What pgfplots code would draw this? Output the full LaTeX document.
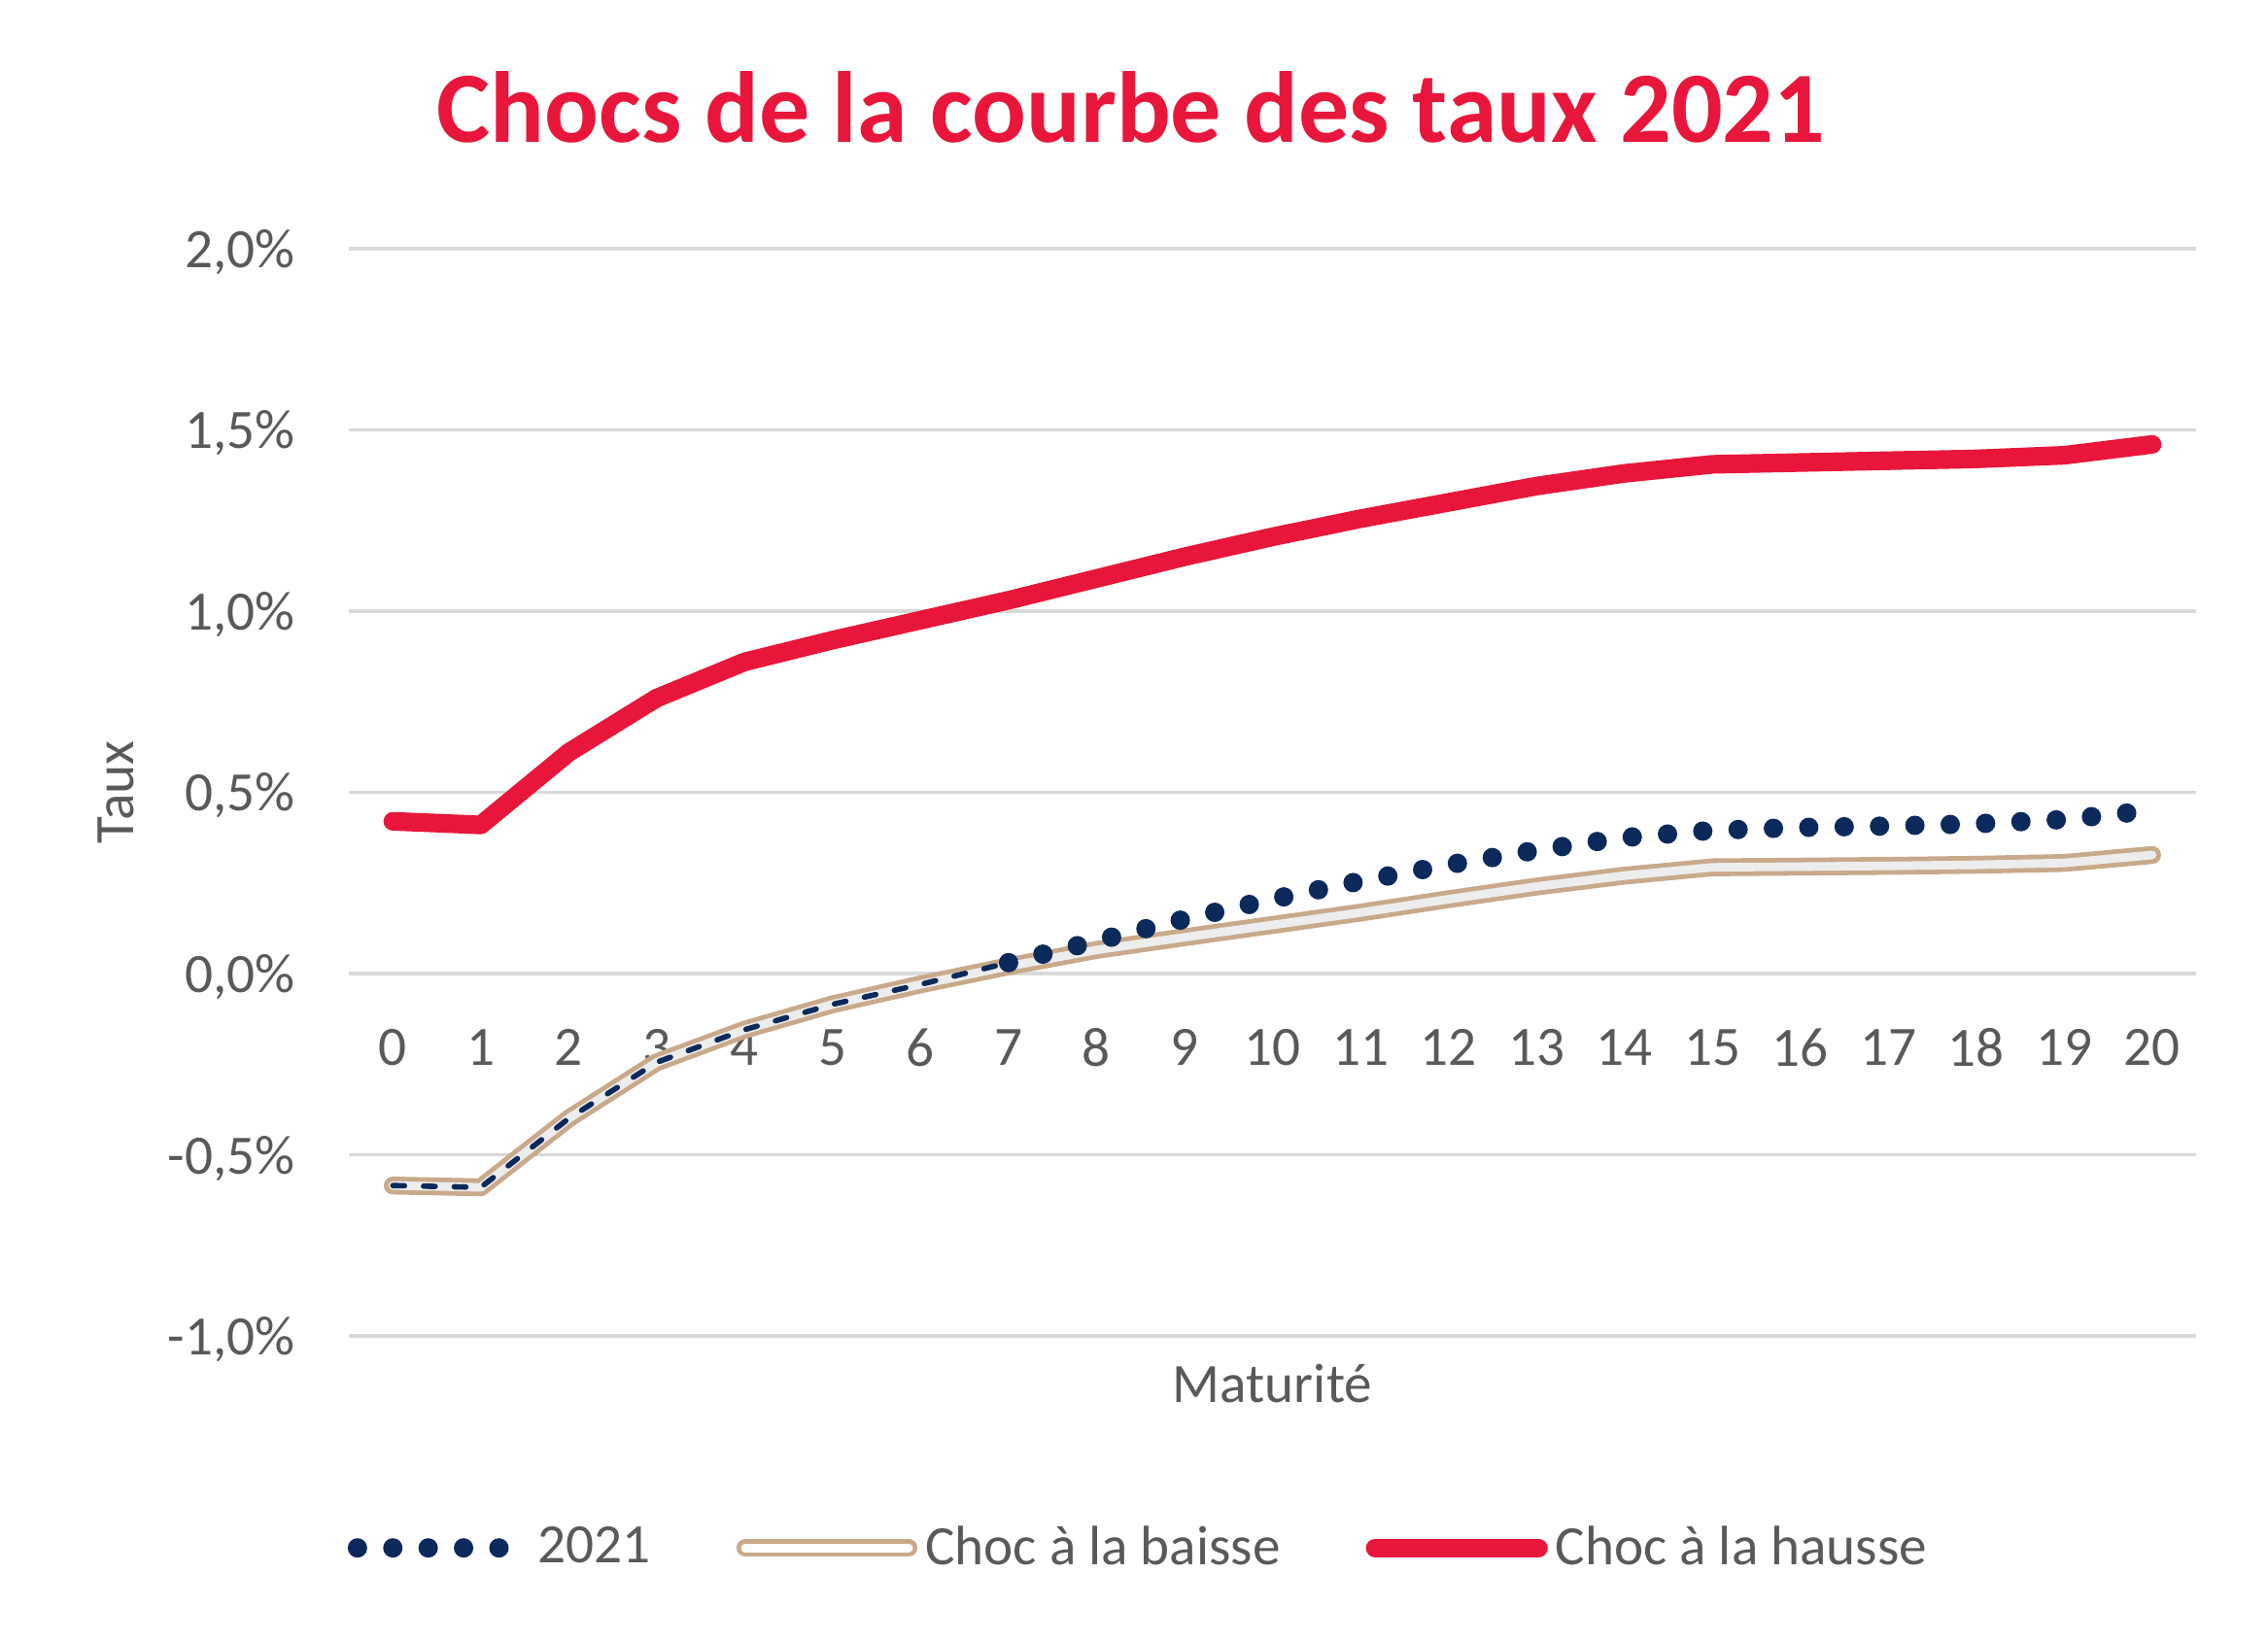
\documentclass[border=0pt]{standalone}
\usepackage{fontspec}
\setmainfont{Carlito}
\usepackage{pgfplots}
\usepackage{pgfplotstable}
\pgfplotsset{compat=1.18}
\definecolor{cred}{HTML}{E8163A}
\definecolor{cnavy}{HTML}{0B2A5B}
\definecolor{ctan}{HTML}{C9A98A}
\definecolor{ctxt}{HTML}{595959}
\definecolor{cgrid}{HTML}{D9D9D9}
\definecolor{cmid}{HTML}{EDEDED}

\pgfplotstableread{
x y
0 -0.585
1 -0.59
2 -0.40
3 -0.245
4 -0.155
5 -0.085
6 -0.03
7 0.03
8 0.09
9 0.15
10 0.205
11 0.255
12 0.30
13 0.34
14 0.375
15 0.395
16 0.403
17 0.407
18 0.413
19 0.425
20 0.45
}\annee

\pgfplotstableread{
x y
0 -0.585
1 -0.59
2 -0.40
3 -0.245
4 -0.155
5 -0.085
6 -0.03
7 0.02
8 0.065
9 0.10
10 0.134
11 0.168
12 0.205
13 0.24
14 0.27
15 0.293
16 0.295
17 0.297
18 0.30
19 0.305
20 0.327
}\baisse

\pgfplotstableread{
x y
0 0.42
1 0.41
2 0.61
3 0.76
4 0.86
5 0.92
6 0.975
7 1.03
8 1.09
9 1.15
10 1.205
11 1.255
12 1.30
13 1.345
14 1.38
15 1.405
16 1.41
17 1.415
18 1.42
19 1.43
20 1.46
}\hausse

\begin{document}
\begin{tikzpicture}
\path[use as bounding box] (-89.75pt,-78.5pt) rectangle (493.75pt,343.75pt);
\begin{axis}[
  at={(0pt,0pt)}, anchor=south west,
  scale only axis, width=475.25pt, height=279.75pt,
  xmin=-0.5, xmax=20.5, ymin=-1, ymax=2,
  axis x line*=middle, axis y line*=left,
  axis line style={draw=none},
  major tick length=0pt,
  xtick={0,1,...,20},
  ytick={-1,-0.5,0,0.5,1,1.5,2},
  yticklabels={{-1,0\%},{-0,5\%},{0,0\%},{0,5\%},{1,0\%},{1,5\%},{2,0\%}},
  ymajorgrids,
  major grid style={cgrid, line width=0.9pt},
  tick label style={font=\fontsize{14.3}{16}\selectfont, text=ctxt},
  /pgf/number format/assume math mode=true,
  xticklabel style={anchor=center, inner sep=0pt, yshift=-19pt},
  yticklabel style={anchor=east, inner sep=0pt, text depth=0pt, xshift=-13.75pt},
  xlabel={Maturité}, ylabel={Taux},
  label style={font=\fontsize{14.3}{16}\selectfont, text=ctxt},
  xlabel style={at={(axis description cs:0.5,-0.044)}, anchor=center},
  ylabel style={at={(axis description cs:-0.126,0.5)}, anchor=center},
  title={Chocs de la courbe des taux 2021},
  title style={at={(axis description cs:0.4235,1.109)}, anchor=center, font=\fontsize{26}{30}\selectfont\bfseries, text=cred},
  legend columns=3,
  legend style={at={(axis description cs:0.429,-0.195)}, anchor=center, draw=none, fill=none,
    font=\fontsize{14.3}{16}\selectfont, text=ctxt,
    /tikz/every even column/.append style={column sep=20pt}},
  legend image code/.code={\draw[#1] (0pt,0pt) -- (42pt,0pt);},
  clip=false,
]
\addplot[ctan, line width=1.2pt, double=cmid, double distance=2.2pt, line cap=round, line join=round, forget plot] table {\baisse};
\addplot[cnavy, line width=1.4pt, dash pattern=on 3pt off 4.9pt, line cap=round, restrict x to domain=0:7, forget plot] table {\annee};
\addplot[cnavy, line width=5pt, dash pattern=on 0pt off 9.1pt, line cap=round, restrict x to domain=7:20] table {\annee};
\addlegendimage{ctan, line width=1.2pt, double=white, double distance=2.2pt, line cap=round}
\addplot[cred, line width=4.8pt, line cap=round, line join=round] table {\hausse};
\legend{2021, Choc à la baisse, Choc à la hausse}
\end{axis}
\end{tikzpicture}
\end{document}
